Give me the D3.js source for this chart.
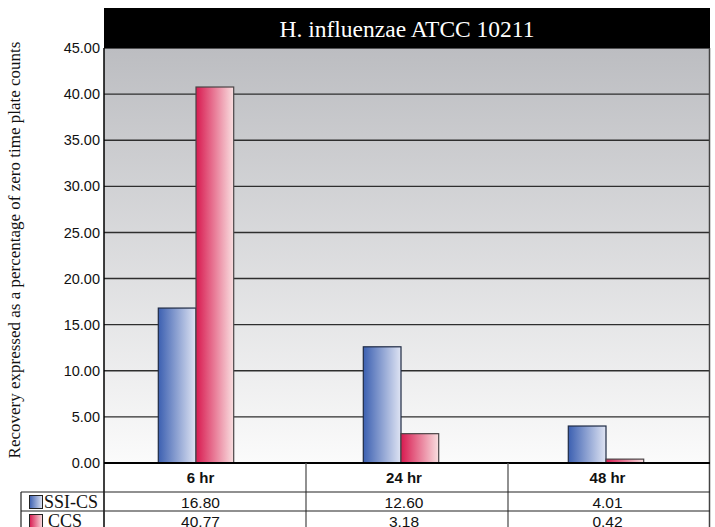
<!DOCTYPE html>
<html>
<head>
<meta charset="utf-8">
<script src="https://cdn.jsdelivr.net/npm/d3@7/dist/d3.min.js"></script>
<style>
  html, body { margin: 0; padding: 0; background: #ffffff; }
  svg { display: block; }
</style>
</head>
<body>
<svg id="chart" width="715" height="527"></svg>
<script>
// Recovery data, H. influenzae ATCC 10211
const categories = ["6 hr", "24 hr", "48 hr"];
const seriesNames = ["SSI-CS", "CCS"];
const ssiValues = [16.80, 12.60, 4.01];
const ccsValues = [40.77, 3.18, 0.42];
const valueLabels = [["16.80", "12.60", "4.01"], ["40.77", "3.18", "0.42"]];
const yTicks = [0, 5, 10, 15, 20, 25, 30, 35, 40, 45];
const title = "H. influenzae ATCC 10211";
const yTitle = "Recovery expressed as a percentage of zero time plate counts";

const series = [ssiValues, ccsValues];

const svg = d3.select("#chart");
const W = 715, H = 527;
const plot = { left: 104, right: 709, top: 48, bottom: 463 };
const titleTop = 8;
const tableLeft = 21;
const rowH = 19, headerBottom = 492;

// gradients
const defs = svg.append("defs");
const bg = defs.append("linearGradient").attr("id", "bg")
  .attr("x1", 0).attr("y1", 0).attr("x2", 0).attr("y2", 1);
bg.append("stop").attr("offset", "0%").attr("stop-color", "#bcbdc1");
bg.append("stop").attr("offset", "100%").attr("stop-color", "#fbfbfb");

const barColors = [["#3c60b1", "#dfe4f3"], ["#d81a50", "#f9dfe0"]];
barColors.forEach((c, i) => {
  const g = defs.append("linearGradient").attr("id", "bar" + i)
    .attr("x1", 0).attr("y1", 0).attr("x2", 1).attr("y2", 0);
  g.append("stop").attr("offset", "0%").attr("stop-color", c[0]);
  g.append("stop").attr("offset", "100%").attr("stop-color", c[1]);
});

// scales
const y = d3.scaleLinear().domain([0, 45]).range([plot.bottom, plot.top]);
const xCol = d3.scaleBand().domain(categories).range([plot.left, plot.right + 1]).padding(0);
const xBar = d3.scaleBand().domain(categories).range([93.5, 708.5]).padding(0);
const groupW = 75.4;
const xInner = d3.scaleBand().domain(d3.range(seriesNames.length))
  .range([(xBar.bandwidth() - groupW) / 2, (xBar.bandwidth() + groupW) / 2]).padding(0);

// plot background
svg.append("rect")
  .attr("x", plot.left).attr("y", plot.top)
  .attr("width", plot.right - plot.left).attr("height", plot.bottom - plot.top)
  .attr("fill", "url(#bg)");

// gridlines
svg.append("g").selectAll("line").data(yTicks.filter(d => d > 0)).join("line")
  .attr("x1", plot.left).attr("x2", plot.right)
  .attr("y1", d => y(d)).attr("y2", d => y(d))
  .attr("stroke", "#2e2e2e").attr("stroke-width", 1.4);

// y axis tick labels
const yAxis = d3.axisLeft(y).tickValues(yTicks).tickFormat(d3.format(".2f")).tickSize(0).tickPadding(4);
const ya = svg.append("g").attr("transform", `translate(${plot.left},0)`).call(yAxis);
ya.select(".domain").remove();
ya.selectAll("text")
  .attr("font-family", "Liberation Sans, Arial, sans-serif")
  .attr("font-size", 14.5).attr("fill", "#111");

// bars
const groups = svg.append("g").selectAll("g").data(categories).join("g")
  .attr("transform", c => `translate(${xBar(c)},0)`);
groups.selectAll("rect").data((c, i) => series.map((s, k) => ({ k, v: s[i] }))).join("rect")
  .attr("x", d => xInner(d.k)).attr("width", xInner.bandwidth())
  .attr("y", d => y(d.v)).attr("height", d => y(0) - y(d.v))
  .attr("fill", d => `url(#bar${d.k})`)
  .attr("stroke", d => d.k === 0 ? "#1e2a44" : "#4a4446").attr("stroke-width", 1.2);

// title bar
svg.append("rect")
  .attr("x", plot.left).attr("y", titleTop)
  .attr("width", 710 - plot.left).attr("height", plot.top - titleTop)
  .attr("fill", "#000");
svg.append("text")
  .attr("x", (plot.left + 710) / 2).attr("y", 37)
  .attr("text-anchor", "middle")
  .attr("font-family", "'Liberation Serif', 'Times New Roman', serif")
  .attr("font-size", 23.5).attr("fill", "#fff")
  .text(title);

// frame lines
const lineC = "#222";
svg.append("line").attr("x1", plot.left).attr("x2", plot.left)
  .attr("y1", plot.top).attr("y2", H).attr("stroke", "#000").attr("stroke-width", 1.5);
svg.append("line").attr("x1", plot.right + 0.5).attr("x2", plot.right + 0.5)
  .attr("y1", plot.top).attr("y2", H).attr("stroke", "#444").attr("stroke-width", 1.5);
svg.append("line").attr("x1", plot.left).attr("x2", plot.right + 1)
  .attr("y1", plot.bottom).attr("y2", plot.bottom).attr("stroke", "#000").attr("stroke-width", 2);

// data table
svg.append("g").selectAll("line").data(categories.slice(1)).join("line")
  .attr("x1", c => xCol(c)).attr("x2", c => xCol(c))
  .attr("y1", plot.bottom).attr("y2", H)
  .attr("stroke", "#555").attr("stroke-width", 1.3);
[headerBottom, headerBottom + rowH].forEach(yy => {
  svg.append("line").attr("x1", tableLeft).attr("x2", plot.right + 1)
    .attr("y1", yy).attr("y2", yy).attr("stroke", lineC).attr("stroke-width", 1.2);
});
svg.append("line").attr("x1", tableLeft).attr("x2", tableLeft)
  .attr("y1", headerBottom).attr("y2", H).attr("stroke", lineC).attr("stroke-width", 1.2);

const labelX = c => ((xBar(c) + xBar.bandwidth() / 2) + (xCol(c) + xCol.bandwidth() / 2)) / 2;

svg.append("g").selectAll("text").data(categories).join("text")
  .attr("x", labelX).attr("y", 483)
  .attr("text-anchor", "middle")
  .attr("font-family", "Liberation Sans, Arial, sans-serif")
  .attr("font-size", 15).attr("font-weight", "bold").attr("fill", "#111")
  .text(c => c);

seriesNames.forEach((name, k) => {
  const rowTop = headerBottom + k * rowH;
  svg.append("g").selectAll("text").data(categories).join("text")
    .attr("x", labelX).attr("y", rowTop + 15.5)
    .attr("text-anchor", "middle")
    .attr("font-family", "Liberation Sans, Arial, sans-serif")
    .attr("font-size", 15.5).attr("fill", "#111")
    .text((c, i) => valueLabels[k][i]);
  svg.append("rect")
    .attr("x", 29.5).attr("y", rowTop + 3.5).attr("width", 13).attr("height", 13)
    .attr("fill", `url(#bar${k})`).attr("stroke", "#222").attr("stroke-width", 1);
  svg.append("text")
    .attr("x", k === 0 ? 44 : 48).attr("y", rowTop + 16)
    .attr("font-family", "'Liberation Serif', 'Times New Roman', serif")
    .attr("font-size", 18).attr("fill", "#111")
    .text(name);
});

// y axis title
svg.append("text")
  .attr("transform", `translate(20,250) rotate(-90)`)
  .attr("text-anchor", "middle")
  .attr("font-family", "'Liberation Serif', 'Times New Roman', serif")
  .attr("font-size", 17).attr("fill", "#111")
  .text(yTitle);
</script>
</body>
</html>
